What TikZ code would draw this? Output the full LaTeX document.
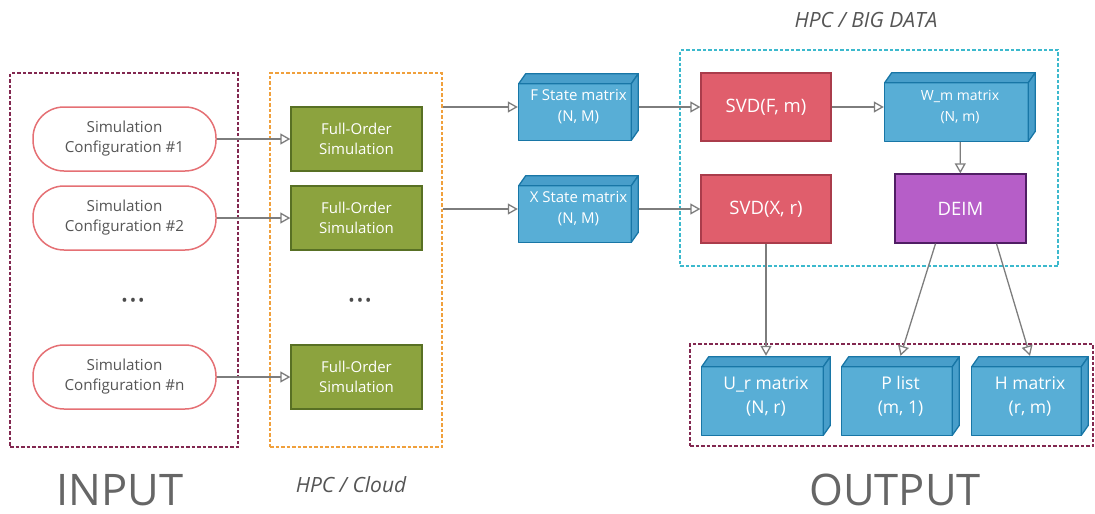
\documentclass[tikz,border=0pt]{standalone}
\usepackage{fontspec}
\setmainfont{Open Sans}
\usetikzlibrary{arrows.meta,positioning}
\definecolor{cfgred}{RGB}{229,112,116}
\definecolor{fosgreen}{RGB}{140,163,62}
\definecolor{fosedge}{RGB}{88,112,36}
\definecolor{svdred}{RGB}{224,94,108}
\definecolor{svdedge}{RGB}{170,60,75}
\definecolor{deimpurple}{RGB}{182,94,200}
\definecolor{deimedge}{RGB}{80,30,100}
\definecolor{mxblue}{RGB}{88,174,214}
\definecolor{mxside}{RGB}{72,158,202}
\definecolor{mxedge}{RGB}{24,118,166}
\definecolor{inputpurple}{RGB}{130,40,80}
\definecolor{cloudorange}{RGB}{240,160,60}
\definecolor{bigcyan}{RGB}{60,185,205}
\definecolor{arrgray}{RGB}{125,125,125}
\definecolor{txtgray}{RGB}{85,85,85}

\begin{document}
\begin{tikzpicture}[x=1pt ,y=-1pt ,
frame/.style ={ draw , dashed , line width=1.2pt , dash pattern=on 3.5pt off 2pt , minimum width=#1 },
config/.style ={ draw=cfgred , fill=white , line width=1.5pt , rounded corners=31pt , text=txtgray ,
align=center , font=\fontsize{15.2}{20}\selectfont , minimum width=183pt , minimum height=64pt },
fos/.style ={ draw=fosedge , fill=fosgreen , line width=1.3pt , text=white , align=center ,
font=\fontsize{15}{20}\selectfont , minimum width=131pt , minimum height=64pt },
svd/.style ={ draw=svdedge , fill=svdred , line width=1.3pt , text=white ,
font=\fontsize{18.5}{22}\selectfont , minimum width=130pt , minimum height=68pt },
mx/.style ={ text=white , align=center , font=\fontsize{15}{21}\selectfont ,
path picture={
\coordinate (pa) at ([shift={(0.7pt,0.7pt)}]path picture bounding box.south west);
\coordinate (pb) at ([shift={(-0.7pt,-0.7pt)}]path picture bounding box.north east);
\filldraw[fill=mxblue ,draw=mxedge ,line width=1.3pt ,line join=round]
(pa) rectangle ([shift={(-7pt,-10pt)}]pb);
\filldraw[fill=mxside ,draw=mxedge ,line width=1.3pt ,line join=round]
([yshift=-10pt]pa |- pb) -- ([xshift=7pt]pa |- pb) -- (pb) -- ([shift={(-7pt,-10pt)}]pb) -- cycle;
\filldraw[fill=mxside ,draw=mxedge ,line width=1.3pt ,line join=round]
([shift={(-7pt,-10pt)}]pb) -- (pb) -- ([yshift=10pt]pb |- pa) -- ([xshift=-7pt]pb |- pa) -- cycle;
}},
outmx/.style ={ mx , font=\fontsize{17.5}{24}\selectfont , minimum height=80pt },
arr/.style ={ draw=arrgray , line width=1.3pt , -{Triangle[length=10pt ,width=11pt ,fill=white]} },
label/.style ={ text=txtgray , font=\fontsize{21}{24}\selectfont\itshape },
big/.style ={ text=txtgray!90 , font=\fontsize{43.5}{48}\selectfont },
dots/.style ={ text=txtgray!90!black , font=\fontsize{17}{20}\selectfont }]
\useasboundingbox (0,0) rectangle (1095,514);

\node[frame=228pt ,draw=inputpurple ,minimum height=374pt] (in) at (124,260) {};
\node[frame=172pt ,draw=cloudorange ,minimum height=374pt] (cloud) at (356,260) {};
\node[frame=378pt ,draw=bigcyan ,minimum height=216pt] (bigdata) at (869,158) {};
\node[frame=403pt ,draw=inputpurple ,minimum height=102pt] (out) at (891.5,395) {};

\node[config] (c1) at (124.5,139) {Simulation\\Configuration \#1};
\node[config] (c2) at (124.5,218) {Simulation\\Configuration \#2};
\node[config] (cn) at (124.5,377) {Simulation\\Configuration \#n};
\node[dots] (d1) at (133,302) {\textbullet\hspace{2pt}\textbullet\hspace{2pt}\textbullet};

\node[fos] (f1) at (356.5,139) {Full-Order\\Simulation};
\node[fos] (f2) at (356.5,218) {Full-Order\\Simulation};
\node[fos] (fn) at (356.5,377) {Full-Order\\Simulation};
\node[dots] (d2) at (360,302) {\textbullet\hspace{2pt}\textbullet\hspace{2pt}\textbullet};

\node[mx ,minimum width=121pt ,minimum height=68pt] (F) at (578.5,107) {F State matrix\\(N, M)};
\node[mx ,minimum width=121pt ,minimum height=68pt] (X) at (578.5,209) {X State matrix\\(N, M)};

\node[svd] (svdF) at (766,107) {SVD(F, m)};
\node[svd] (svdX) at (766,209) {SVD(X, r)};

\node[mx ,font=\fontsize{14}{21}\selectfont ,minimum width=152pt ,minimum height=70pt] (W) at (960,107) {W\_m matrix\\(N, m)};
\node[svd ,draw=deimedge ,fill=deimpurple ,minimum width=131pt ,minimum height=69pt] (deim) at (960.5,208.5) {DEIM};

\node[outmx ,minimum width=130pt] (U) at (766,396) {U\_r matrix\\(N, r)};
\node[outmx ,minimum width=119pt] (P) at (900.5,396) {P list\\(m, 1)};
\node[outmx ,minimum width=118pt] (H) at (1030,396) {H matrix\\(r, m)};

\node[label] (hpcbig) at (866,20) {HPC / BIG DATA};
\node[label] (hpccloud) at (351,485) {HPC / Cloud};
\node[big] (input) at (120,490) {INPUT};
\node[big] (output) at (895,490) {OUTPUT};

\coordinate (o1) at (cloud.east |- F.west);
\coordinate (o2) at (cloud.east |- X.west);

\draw[arr] (c1) -- (f1);
\draw[arr] (c2) -- (f2);
\draw[arr] (cn) -- (fn);
\draw[arr] (o1) -- (F);
\draw[arr] (o2) -- (X);
\draw[arr] (F) -- (svdF);
\draw[arr] (X) -- (svdX);
\draw[arr] (svdF) -- (W);
\draw[arr] (W) -- (deim);
\draw[arr] (svdX) -- (U);
\draw[arr] ([xshift=-25pt]deim.south) -- (P.north);
\draw[arr] ([xshift=36pt]deim.south) -- (H.north);
\end{tikzpicture}
\end{document}
